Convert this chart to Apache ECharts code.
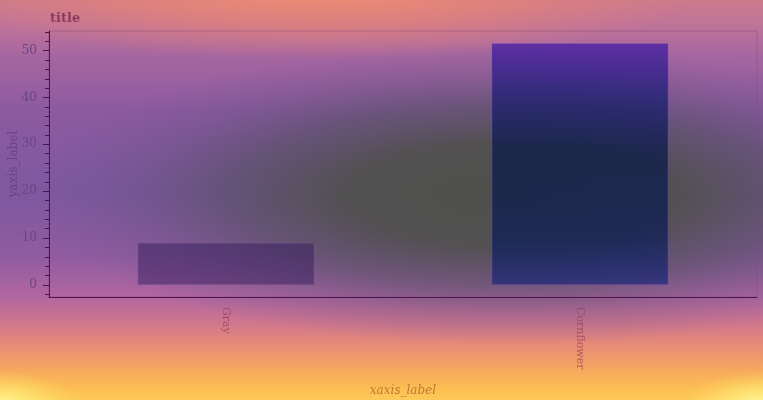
<!DOCTYPE html>
<html>
<head>
<meta charset="utf-8">
<script src="https://cdn.jsdelivr.net/npm/echarts@6/dist/echarts.min.js"></script>
<style>html,body{margin:0;padding:0;background:#7e58a0;}#c{width:763px;height:400px;}</style>
</head>
<body>
<div id="c"></div>
<script>
const categories = ['Gray', 'Cornflower'];
const values = [9, 51.6];
const yMajorTicks = [0, 10, 20, 30, 40, 50];
const yMinorTicks = [-2, 2, 4, 6, 8, 12, 14, 16, 18, 22, 24, 26, 28, 32, 34, 36, 38, 42, 44, 46, 48, 52, 54];
const yRange = [-2.58, 54.2];

const W = 763, H = 400;
function ellipse(cx, cy, rx, ry, stops, z) {
  return {
    type: 'rect', silent: true, z: z,
    x: cx, y: cy, scaleX: 1, scaleY: ry / rx,
    shape: { x: -rx, y: -rx, width: 2 * rx, height: 2 * rx },
    style: { fill: { type: 'radial', x: 0.5, y: 0.5, r: 0.5, colorStops: stops } }
  };
}
const chart = echarts.init(document.getElementById('c'), null, { renderer: 'canvas' });
const serif = 'DejaVu Serif';
const axisCol = '#4a1450';
chart.setOption({
  animation: false,
  graphic: { elements: [
    { type: 'rect', silent: true, z: -100, shape: { x: 0, y: 0, width: W, height: H },
      style: { fill: { type: 'linear', x: 0, y: 0, x2: 0, y2: 1, colorStops: [
        { offset: 0, color: '#cc7a8c' },
        { offset: 0.06, color: '#c07498' },
        { offset: 0.14, color: '#a666a0' },
        { offset: 0.28, color: '#8c5aa0' },
        { offset: 0.48, color: '#7e58a0' },
        { offset: 0.64, color: '#905ca0' },
        { offset: 0.74, color: '#b066a0' },
        { offset: 0.8, color: '#cc7490' },
        { offset: 0.86, color: '#e68a78' },
        { offset: 0.92, color: '#f6a660' },
        { offset: 0.97, color: '#fcbe52' },
        { offset: 1, color: '#fdca5a' }
      ] } } },
    ellipse(320, -10, 380, 70, [
      { offset: 0, color: 'rgba(242,142,112,0.95)' },
      { offset: 0.5, color: 'rgba(235,135,115,0.6)' },
      { offset: 1, color: 'rgba(230,130,120,0)' }
    ], -99),
    ellipse(510, 195, 480, 150, [
      { offset: 0, color: 'rgba(78,80,74,1)' },
      { offset: 0.35, color: 'rgba(80,80,78,0.95)' },
      { offset: 0.6, color: 'rgba(86,80,100,0.64)' },
      { offset: 0.8, color: 'rgba(95,80,120,0.27)' },
      { offset: 1, color: 'rgba(100,80,140,0)' }
    ], -98),
    ellipse(0, 405, 80, 34, [
      { offset: 0, color: 'rgba(255,250,150,1)' },
      { offset: 0.5, color: 'rgba(255,235,120,0.6)' },
      { offset: 1, color: 'rgba(255,220,100,0)' }
    ], -97),
    ellipse(763, 405, 80, 34, [
      { offset: 0, color: 'rgba(255,252,160,1)' },
      { offset: 0.5, color: 'rgba(255,238,125,0.6)' },
      { offset: 1, color: 'rgba(255,220,100,0)' }
    ], -97)
  ] },
  title: {
    text: 'title', left: 45, top: 7,
    textStyle: { fontFamily: serif, fontWeight: 'bold', fontSize: 13, color: '#8a3a5e' }
  },
  grid: { left: 49, top: 31, width: 708, height: 266, outerBoundsMode: 'none', containLabel: false, show: true, borderColor: 'rgba(140,70,120,0.45)', borderWidth: 1, backgroundColor: 'transparent' },
  xAxis: {
    type: 'category', data: categories,
    axisLine: { onZero: false, lineStyle: { color: axisCol, width: 1 } },
    axisTick: { alignWithLabel: true, length: 6, lineStyle: { color: axisCol } },
    axisLabel: { rotate: -90, margin: 10, color: 'rgba(140,55,85,0.65)', fontFamily: serif, fontSize: 11 },
    name: 'xaxis_label', nameLocation: 'middle', nameGap: 88, nameMoveOverlap: false,
    nameTextStyle: { fontFamily: serif, fontStyle: 'italic', fontSize: 12, color: '#c07a32' }
  },
  yAxis: [
    {
      type: 'value', min: yRange[0], max: yRange[1],
      axisLine: { show: true, lineStyle: { color: axisCol, width: 1 } },
      axisTick: { show: true, length: 6, customValues: yMajorTicks, lineStyle: { color: axisCol } },
      axisLabel: { customValues: yMajorTicks, margin: 12, color: '#6a4682', fontFamily: serif, fontSize: 12 },
      splitLine: { show: false },
      name: 'yaxis_label', nameLocation: 'middle', nameRotate: 90, nameGap: 29, nameMoveOverlap: false,
      nameTextStyle: { fontFamily: serif, fontSize: 12, color: '#6a4480' }
    },
    {
      type: 'value', min: yRange[0], max: yRange[1], position: 'left', offset: 0,
      axisLine: { show: false },
      axisTick: { show: true, length: 4, customValues: yMinorTicks, lineStyle: { color: axisCol } },
      axisLabel: { show: false },
      splitLine: { show: false }
    }
  ],
  series: [{
    type: 'bar', yAxisIndex: 0, barWidth: '50%',
    data: [
      { value: values[0], itemStyle: { color: 'rgba(50,28,90,0.48)', borderColor: 'rgba(120,80,150,0.35)', borderWidth: 1 } },
      { value: values[1], itemStyle: {
        color: { type: 'linear', x: 0, y: 0, x2: 0, y2: 1, colorStops: [
          { offset: 0, color: 'rgba(45,10,165,0.62)' },
          { offset: 0.22, color: 'rgba(10,20,110,0.64)' },
          { offset: 0.45, color: 'rgba(0,18,70,0.66)' },
          { offset: 0.8, color: 'rgba(0,20,85,0.64)' },
          { offset: 1, color: 'rgba(10,30,120,0.6)' }
        ] },
        borderColor: 'rgba(110,70,190,0.4)', borderWidth: 1 } }
    ]
  }]
});
</script>
</body>
</html>
